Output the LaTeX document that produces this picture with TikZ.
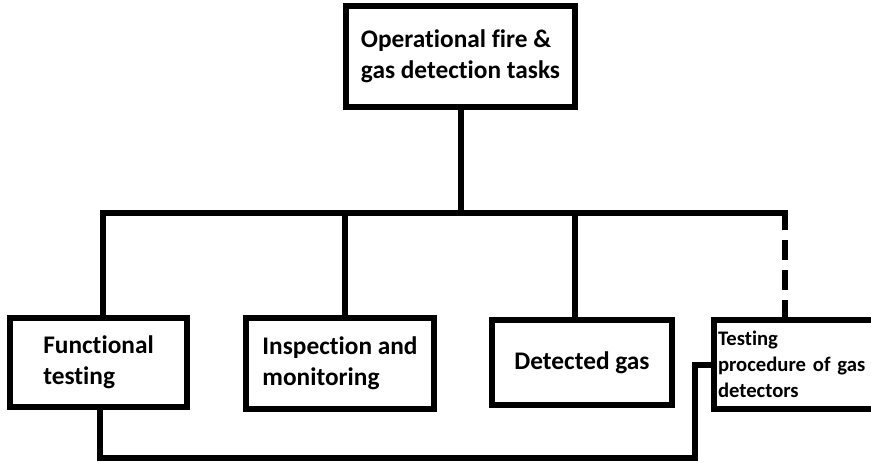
\documentclass[tikz,border=0pt]{standalone}
\usepackage{fontspec}
\setmainfont[Ligatures=NoCommon]{Carlito}
\begin{document}
\begin{tikzpicture}[x=0.75pt,y=-0.75pt,
  conn/.style={line width=4.5pt,line join=miter,line cap=rect},
  box/.style={draw,line width=4.5pt,inner sep=0pt,align=left,
    font=\fontsize{19pt}{23.5pt}\selectfont\bfseries},
  smallbox/.style={draw,line width=4.5pt,inner xsep=3pt,inner ysep=0pt,
    font=\fontsize{15.5pt}{19.5pt}\selectfont\bfseries}]
\useasboundingbox (0,0) rectangle (871,463);
\node[box,minimum width=171.75pt,minimum height=75.75pt] (top) at (460.5,56.5)
  {Operational fire \&\\gas detection tasks};
\node[box,minimum width=132.75pt,minimum height=66.75pt] (f) at (98.5,362.5)
  {Functional\\testing};
\node[box,minimum width=141pt,minimum height=68.25pt] (i) at (340,363.5)
  {Inspection and\\monitoring};
\node[box,minimum width=135pt,minimum height=63.75pt] (d) at (582,362.5)
  {Detected gas};
\node[smallbox,text width=126pt,align=left,minimum height=66.75pt,anchor=west] (t) at (711,364.5)
  {Testing\\procedure of gas\\detectors};
\coordinate (barR) at (785,213);
\coordinate (bendB) at (695,458);
\draw[conn] ([xshift=3pt]f.north) |- (barR);
\draw[conn] (top.south) -- (top.south |- barR);
\draw[conn] ([xshift=3.75pt]i.north) -- ([xshift=3.75pt]i.north |- barR);
\draw[conn] ([xshift=-5.25pt]d.north) -- ([xshift=-5.25pt]d.north |- barR);
\draw[conn,line cap=butt,dash pattern=on 15pt off 7.5pt] ([yshift=2pt]barR) -- (t.north -| barR);
\draw[conn] ([xshift=1pt]f.south) |- (bendB) |- (t.west);
\end{tikzpicture}
\end{document}
